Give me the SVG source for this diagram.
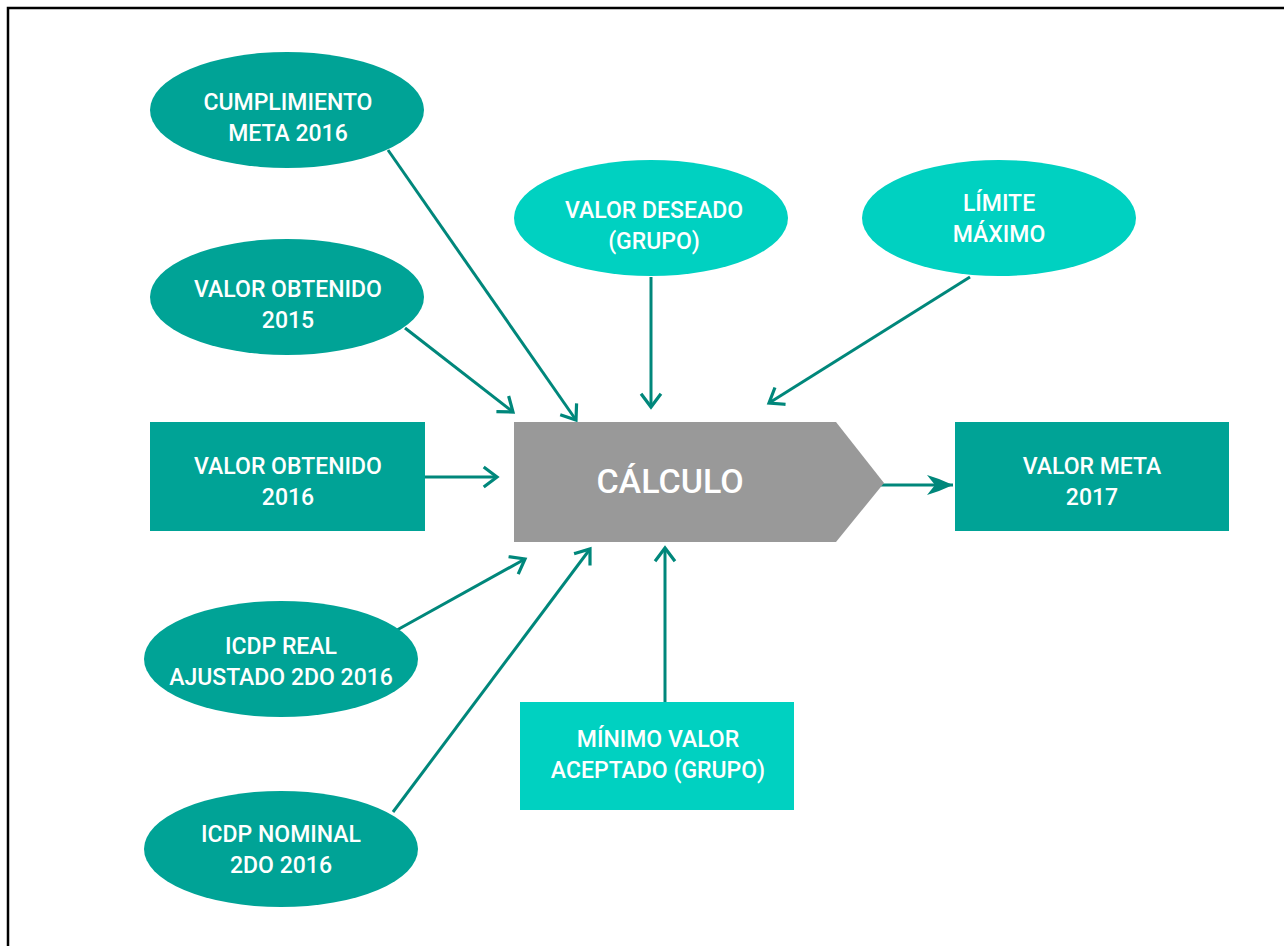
<svg xmlns="http://www.w3.org/2000/svg" width="1284" height="946" viewBox="0 0 1284 946">
<style>
.dk{fill:#00A396}
.lt{fill:#00D1C1}
.t{font-family:Roboto,"Liberation Sans",sans-serif;font-weight:500;font-size:23px;fill:#fff;text-anchor:middle}
.c{stroke:#00877B;stroke-width:3;fill:none}
</style>
<defs>
<marker id="ah" markerUnits="userSpaceOnUse" markerWidth="30" markerHeight="30" viewBox="-15 -15 30 30" refX="0" refY="0" orient="auto">
<path d="M-12,-9 L0,0 L-12,9" fill="none" stroke="#00877B" stroke-width="3.2" stroke-linecap="square"/>
</marker>
<marker id="ah2" markerUnits="userSpaceOnUse" markerWidth="40" markerHeight="30" viewBox="-30 -15 40 30" refX="0" refY="0" orient="auto">
<path d="M-26,-10 L-14,-6 L0,0 L-14,6 L-26,10 L-18,0 Z" fill="#00877B"/>
</marker>
</defs>
<rect width="1284" height="946" fill="#fff"/>
<rect x="8" y="8" width="1300" height="960" fill="none" stroke="#000" stroke-width="2.5"/>
<g id="connectors">
<line class="c" x1="388" y1="150" x2="576" y2="420" marker-end="url(#ah)"/>
<line class="c" x1="405" y1="328" x2="513" y2="412" marker-end="url(#ah)"/>
<line class="c" x1="425" y1="477" x2="497" y2="477" marker-end="url(#ah)"/>
<line class="c" x1="651" y1="277" x2="651" y2="407" marker-end="url(#ah)"/>
<line class="c" x1="970" y1="277" x2="769" y2="403" marker-end="url(#ah)"/>
<line class="c" x1="397" y1="630" x2="525" y2="559" marker-end="url(#ah)"/>
<line class="c" x1="393" y1="812" x2="590" y2="549" marker-end="url(#ah)"/>
<line class="c" x1="665" y1="702" x2="665" y2="548" marker-end="url(#ah)"/>
<line class="c" x1="878" y1="485" x2="953" y2="485" stroke-width="4" marker-end="url(#ah2)"/>
</g>
<g id="cumplimiento">
<ellipse class="dk" cx="287" cy="110" rx="137" ry="58"/>
<text class="t" x="288" y="110">CUMPLIMIENTO</text>
<text class="t" x="288" y="141">META 2016</text>
</g>
<g id="valor-obtenido-2015">
<ellipse class="dk" cx="287" cy="297" rx="137" ry="58"/>
<text class="t" x="288" y="297">VALOR OBTENIDO</text>
<text class="t" x="288" y="328">2015</text>
</g>
<g id="valor-obtenido-2016">
<rect class="dk" x="150" y="422" width="275" height="109"/>
<text class="t" x="288" y="474">VALOR OBTENIDO</text>
<text class="t" x="288" y="505">2016</text>
</g>
<g id="icdp-real">
<ellipse class="dk" cx="281" cy="659" rx="137" ry="58"/>
<text class="t" x="281" y="654">ICDP REAL</text>
<text class="t" x="281" y="685">AJUSTADO 2DO 2016</text>
</g>
<g id="icdp-nominal">
<ellipse class="dk" cx="281" cy="849" rx="137" ry="58"/>
<text class="t" x="281" y="842">ICDP NOMINAL</text>
<text class="t" x="281" y="873">2DO 2016</text>
</g>
<g id="valor-deseado">
<ellipse class="lt" cx="651" cy="218" rx="137" ry="58"/>
<text class="t" x="654" y="218">VALOR DESEADO</text>
<text class="t" x="654" y="249">(GRUPO)</text>
</g>
<g id="limite-maximo">
<ellipse class="lt" cx="999" cy="218" rx="137" ry="58"/>
<text class="t" x="999" y="211">LÍMITE</text>
<text class="t" x="999" y="242">MÁXIMO</text>
</g>
<g id="minimo-valor">
<rect class="lt" x="520" y="702" width="274" height="108"/>
<text class="t" x="658" y="747">MÍNIMO VALOR</text>
<text class="t" x="658" y="778">ACEPTADO (GRUPO)</text>
</g>
<g id="calculo">
<polygon points="514,422 836,422 884,483 836,542 514,542" fill="#999999"/>
<text class="t" x="670" y="493" style="font-size:34px;font-weight:500">CÁLCULO</text>
</g>
<g id="valor-meta">
<rect class="dk" x="955" y="422" width="274" height="109"/>
<text class="t" x="1092" y="474">VALOR META</text>
<text class="t" x="1092" y="505">2017</text>
</g>
</svg>
